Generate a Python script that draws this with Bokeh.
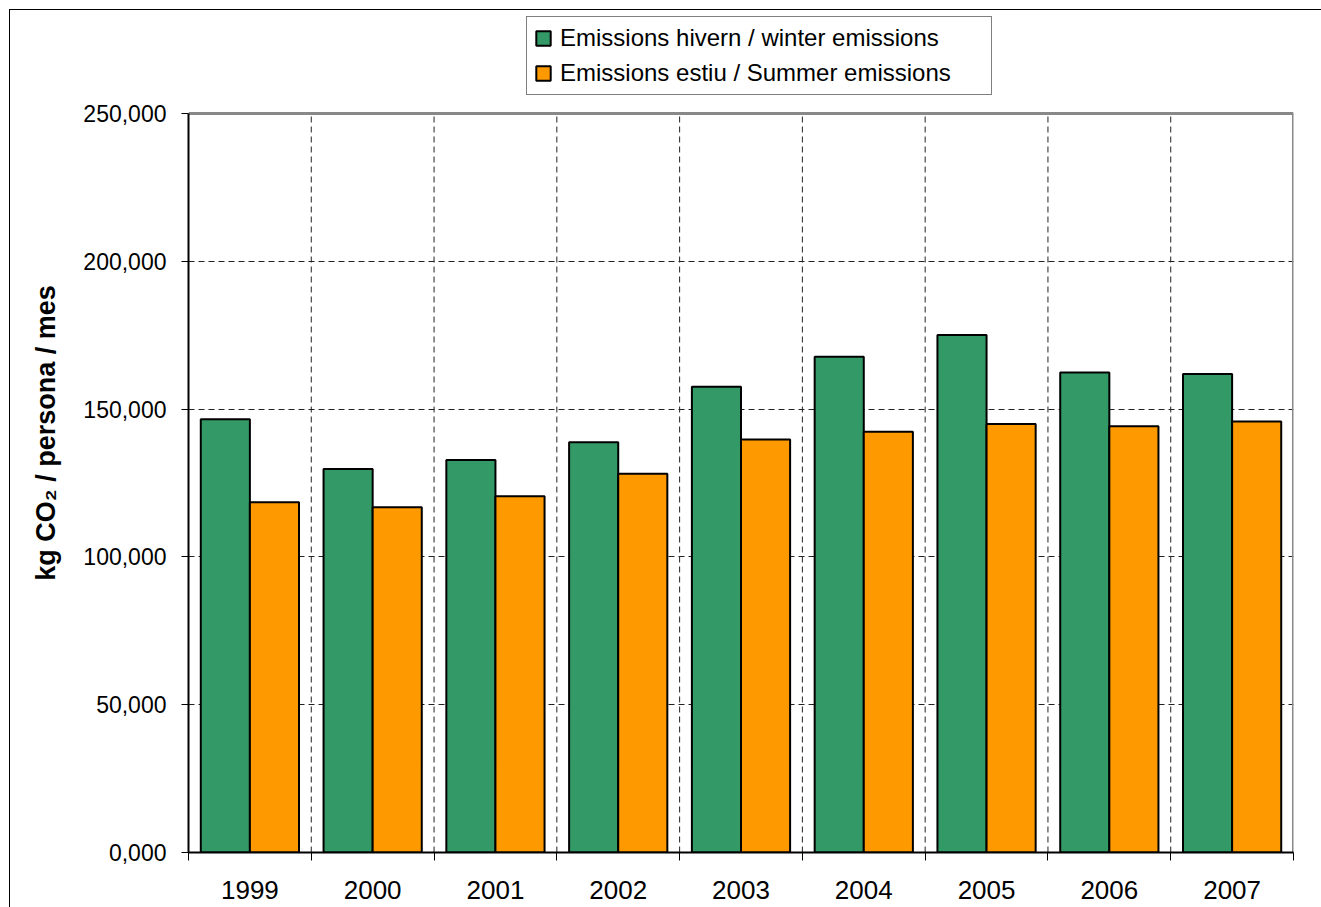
from bokeh.plotting import figure
from bokeh.models import (ColumnDataSource, FixedTicker, Range1d, Legend, LegendItem)
from bokeh.transform import dodge
from bokeh.embed import file_html
from bokeh.resources import INLINE

years = ["1999", "2000", "2001", "2002", "2003", "2004", "2005", "2006", "2007"]
winter = [146.6, 129.7, 132.8, 138.8, 157.6, 167.7, 175.1, 162.4, 161.9]
summer = [118.5, 116.8, 120.5, 128.1, 139.7, 142.3, 145.0, 144.2, 145.8]
y_ticks = [0, 50, 100, 150, 200, 250]
y_tick_labels = ["0,000", "50,000", "100,000", "150,000", "200,000", "250,000"]
winter_label = "Emissions hivern / winter emissions"
summer_label = "Emissions estiu / Summer emissions"
y_title = "kg CO\u2082 / persona / mes"

n = len(years)
y_max = y_ticks[-1]
pos = [i + 0.5 for i in range(n)]
src = ColumnDataSource(dict(pos=pos, year=years, winter=winter, summer=summer))

# frame extends above the value axis to hold the legend (13px top margin)
FRAME_TOP, AXIS_TOP, FRAME_BOTTOM = 13, 113, 852
y_end = y_max * (FRAME_BOTTOM - FRAME_TOP) / (FRAME_BOTTOM - AXIS_TOP)

FONT = "Liberation Sans"
p = figure(width=1321, height=907, output_backend="svg",
           toolbar_location=None,
           x_range=Range1d(0, n), y_range=Range1d(0, y_end),
           min_border_left=188, min_border_right=28, min_border_top=FRAME_TOP,
           min_border_bottom=55)
p.styles = {
    "background": ("linear-gradient(#000, #000) 9px 9px / 1px 100% no-repeat, "
                   "linear-gradient(#000, #000) 9px 9px / 100% 1px no-repeat, #ffffff"),
}
p.background_fill_color = "white"
p.border_fill_color = None
p.outline_line_color = None

# dashed vertical grid at category boundaries, only within the value area
bounds_x = list(range(1, n))
p.segment(x0=bounds_x, x1=bounds_x, y0=[0] * len(bounds_x), y1=[y_max] * len(bounds_x),
          line_color="#222222", line_dash="6 4", line_width=1)
p.ygrid.ticker = FixedTicker(ticks=y_ticks[1:-1])
p.ygrid.grid_line_color = "#222222"
p.ygrid.grid_line_dash = "6 4"
p.ygrid.grid_line_width = 1
p.xgrid.grid_line_color = None

rw = p.vbar(x=dodge("pos", -0.2, range=p.x_range), top="winter", width=0.4,
            source=src, fill_color="#339966", line_color="black", line_width=2)
rs = p.vbar(x=dodge("pos", 0.2, range=p.x_range), top="summer", width=0.4,
            source=src, fill_color="#FF9900", line_color="black", line_width=2)

# plot-area border (top and right, gray)
p.segment(x0=[0, n], x1=[n, n], y0=[y_max, 0], y1=[y_max, y_max],
          line_color="#888888", line_width=3)

# x axis: labels at category centers, ticks at boundaries
xax = p.xaxis[0]
xax.ticker = FixedTicker(ticks=pos, minor_ticks=list(range(n + 1)))
xax.major_label_overrides = {v: y for v, y in zip(pos, years)}
xax.major_tick_line_color = None
xax.major_tick_in = 0
xax.major_tick_out = 8
xax.minor_tick_in = 0
xax.minor_tick_out = 8
xax.minor_tick_line_color = "black"
xax.minor_tick_line_width = 1
xax.axis_line_color = "black"
xax.axis_line_width = 2
xax.major_label_text_font = FONT
xax.major_label_text_font_size = "26px"
xax.major_label_text_color = "black"
xax.major_label_standoff = 20

yax = p.yaxis[0]
yax.bounds = (0, y_max)
yax.ticker = FixedTicker(ticks=y_ticks, minor_ticks=[])
yax.major_label_overrides = {v: s for v, s in zip(y_ticks, y_tick_labels)}
yax.major_tick_in = 0
yax.major_tick_out = 7
yax.major_tick_line_color = "black"
yax.axis_line_color = "black"
yax.axis_line_width = 2
yax.major_label_text_font = FONT
yax.major_label_text_font_size = "23px"
yax.major_label_text_color = "black"
yax.major_label_standoff = 15
yax.axis_label = y_title
yax.axis_label_text_font = FONT
yax.axis_label_text_font_size = "27px"
yax.axis_label_text_font_style = "bold"
yax.axis_label_text_color = "black"
yax.axis_label_standoff = 19

legend = Legend(items=[LegendItem(label=winter_label, renderers=[rw]),
                       LegendItem(label=summer_label, renderers=[rs])],
                location=(338, 757), margin=0, padding=7, spacing=7,
                glyph_width=18, glyph_height=18, label_height=28,
                label_standoff=8, label_width=424,
                label_text_font=FONT, label_text_font_size="24px",
                label_text_color="black",
                border_line_color="black", border_line_width=1,
                background_fill_color="white", background_fill_alpha=1)
p.add_layout(legend, "center")

open("out.html", "w").write(file_html(p, INLINE))
